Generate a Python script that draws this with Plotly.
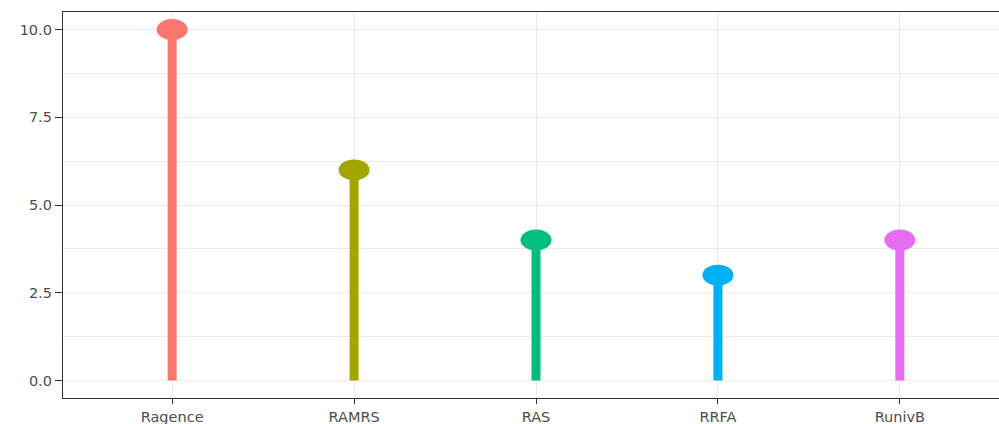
import plotly.graph_objects as go

categories = ["Ragence", "RAMRS", "RAS", "RRFA", "RunivB"]
values = [10, 6, 4, 3, 4]
colors = ["#F8766D", "#A3A500", "#00BF7D", "#00B0F6", "#E76BF3"]
y_ticks = [0, 2.5, 5, 7.5, 10]
y_ticktext = ["0.0", "2.5", "5.0", "7.5", "10.0"]

xs = list(range(len(categories)))

fig = go.Figure()
for i, (c, v, col) in enumerate(zip(categories, values, colors)):
    fig.add_trace(go.Scatter(x=[i, i], y=[0, v], mode="lines",
                             line=dict(color=col, width=9), showlegend=False,
                             hoverinfo="skip"))
    fig.add_shape(type="circle", xref="x", yref="y",
                  xsizemode="pixel", ysizemode="pixel",
                  xanchor=i, yanchor=v, x0=-15.5, x1=15.5, y0=-10.5, y1=10.5,
                  fillcolor=col, line=dict(width=0), layer="above")

fig.update_layout(
    width=999, height=424,
    margin=dict(l=63, r=0, t=12, b=26, autoexpand=False),
    paper_bgcolor="white", plot_bgcolor="white",
    font=dict(family="DejaVu Sans, Liberation Sans, Arial, sans-serif", size=14.5, color="#4D4D4D"),
    showlegend=False,
)
fig.update_xaxes(
    range=[-0.6, 4.545], tickvals=xs, ticktext=categories,
    showgrid=True, gridcolor="#EBEBEB", gridwidth=1.3,
    showline=True, linecolor="#333333", linewidth=1.3, mirror=True,
    ticks="outside", ticklen=5, tickcolor="#333333", tickwidth=1.3,
    zeroline=False, tickfont=dict(size=14.5, color="#4D4D4D"),
    automargin=False,
)
fig.update_yaxes(
    range=[-0.5, 10.5], tickvals=y_ticks, ticktext=y_ticktext,
    showgrid=True, gridcolor="#EBEBEB", gridwidth=1.3,
    minor=dict(tickvals=[1.25, 3.75, 6.25, 8.75], showgrid=True,
               gridcolor="#EBEBEB", gridwidth=0.7, ticks=""),
    showline=True, linecolor="#333333", linewidth=1.3, mirror=False,
    ticks="outside", ticklen=7, tickcolor="#333333", tickwidth=1.3,
    zeroline=False, tickfont=dict(size=14.5, color="#4D4D4D"),
    automargin=False,
)

fig.write_html("out.html", config={"displayModeBar": False},
               post_script="document.body.style.margin='0';document.body.style.overflow='hidden';")
